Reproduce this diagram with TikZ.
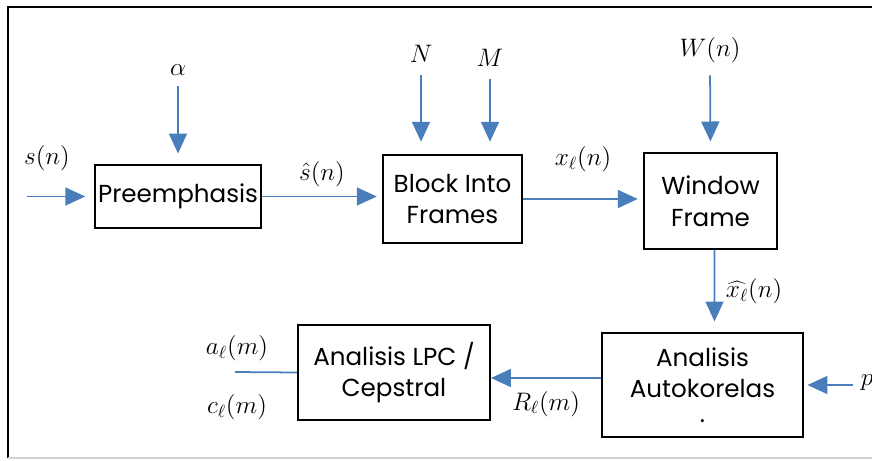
\documentclass[tikz,border=0pt]{standalone}
\usepackage{fontspec}
\setmainfont{Poppins}
\usetikzlibrary{arrows.meta}
\definecolor{sigblue}{HTML}{4A7EBB}

\begin{document}
\begin{tikzpicture}[x=0.02cm,y=-0.02cm,>={Triangle[length=0.4cm,width=0.36cm]},
  blk/.style={draw,line width=1.1pt,align=center,inner sep=0pt,font=\fontsize{14}{18}\selectfont},
  sig/.style={sigblue,line width=1pt,->},
  lbl/.style={text=black,inner sep=1pt,font=\fontsize{14}{17}\selectfont}]
\useasboundingbox (0,0) rectangle (872,460);
\draw[line width=1.1pt] (8,458)--(8,7)--(872,7);
\draw[gray!35,line width=1.1pt] (8,458)--(872,458);
% blocks
\node[blk,minimum width=3.32cm,minimum height=1.26cm] (pre) at (178,196.5) {Preemphasis};
\node[blk,minimum width=2.78cm,minimum height=1.76cm] (block) at (452.5,199) {Block Into\\Frames};
\node[blk,minimum width=2.66cm,minimum height=1.92cm] (win) at (710.5,201) {Window\\Frame};
\node[blk,minimum width=4.02cm,minimum height=2.08cm] (auto) at (702.5,385) {Analisis\\Autokorelas\\[-4pt].};
\node[blk,minimum width=3.84cm,minimum height=1.9cm] (lpc) at (394,372.5) {Analisis LPC /\\Cepstral};
% inputs
\node[lbl] (sn) at (47,158) {$s(n)$};
\node[lbl] (alpha) at (178,70) {$\alpha$};
\node[lbl] (N) at (421,54) {$N$};
\node[lbl] (M) at (490,58) {$M$};
\node[lbl] (W) at (710,50) {$W(n)$};
\node[lbl] (p) at (867,383) {$p$};
\coordinate (sin) at (27,196.5);
\coordinate (aout) at (235,372);
% signals
\draw[sig,shorten >=5pt] (sin)--(pre.west);
\draw[sig,shorten <=5pt,shorten >=6pt] (alpha.south)--(pre.north);
\draw[sig,shorten <=6pt,shorten >=7pt] (N.south)--(N.south|-block.north);
\draw[sig,shorten <=6pt,shorten >=7pt] (M.south)--(M.south|-block.north);
\draw[sig,shorten <=6pt,shorten >=6pt] (W.south)--(win.north);
\draw[sig,shorten >=3pt] (pre.east)--(pre.east-|block.west) node[lbl,midway,above=4pt] {$\hat{s}(n)$};
\draw[sig,shorten >=3pt] (block.east)--(block.east-|win.west) node[lbl,midway,above=14pt] {$x_\ell(n)$};
\draw[sig,shorten >=6pt] ([xshift=0.08cm]win.south)--([xshift=0.24cm]auto.north) node[lbl,midway,right=5pt] {$\widehat{x_\ell}(n)$};
\draw[sig] ([yshift=0.14cm]auto.west)--([yshift=0.14cm]auto.west-|lpc.east) node[lbl,midway,below=6pt] {$R_\ell(m)$};
\draw[sig,shorten <=3pt,shorten >=2pt] (p.west|-auto.east)--(auto.east);
\draw[sigblue,line width=1pt] (lpc.west)--(aout);
\node[lbl] (a) at (237,348) {$a_\ell(m)$};
\node[lbl] (c) at (237,407) {$c_\ell(m)$};
\end{tikzpicture}
\end{document}
